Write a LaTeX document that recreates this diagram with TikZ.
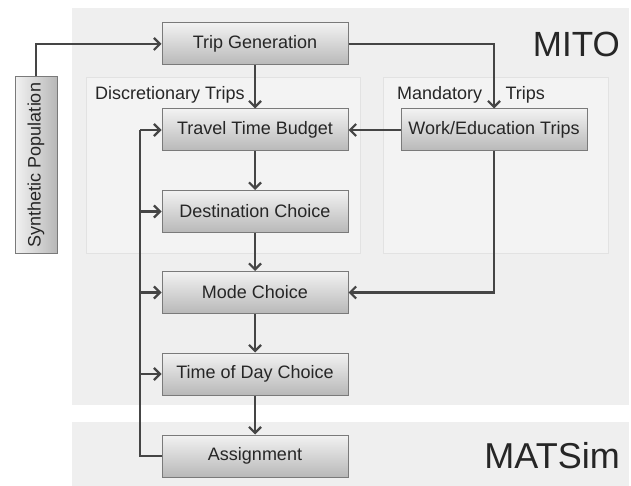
\documentclass[tikz,border=0pt]{standalone}
\usepackage{fontspec}
\setmainfont{Liberation Sans}
\usetikzlibrary{arrows.meta,positioning}
\definecolor{panel}{HTML}{EFEFEF}
\definecolor{inpanel}{HTML}{F3F3F3}
\definecolor{inborder}{HTML}{E2E2E2}
\definecolor{lin}{HTML}{454545}
\definecolor{boxtop}{HTML}{F2F2F2}
\definecolor{boxbot}{HTML}{B8B8B8}
\definecolor{boxedge}{HTML}{7A7A7A}
\tikzset{
  proc/.style={draw=boxedge, line width=1pt, top color=boxtop, bottom color=boxbot,
    minimum width=186pt, minimum height=42pt, inner sep=0pt, font=\fontsize{18}{20}\selectfont, text=black!85},
  conn/.style={draw=lin, line width=2.6pt, -{Straight Barb[length=6pt,width=12pt,line width=2.2pt]}},
  plain/.style={draw=lin, line width=2.6pt},
  lbl/.style={font=\fontsize{18}{20}\selectfont, text=black!85, inner sep=0pt, anchor=west},
}
\begin{document}
\begin{tikzpicture}[x=1pt,y=-1pt]
\useasboundingbox (0,0) rectangle (631,486);
\fill[white] (0,0) rectangle (631,486);
% panels
\fill[panel] (72,8) rectangle (629,405);
\fill[panel] (72,422) rectangle (629,486);
\filldraw[fill=inpanel, draw=inborder, line width=1pt] (86,78) rectangle (360,253);
\filldraw[fill=inpanel, draw=inborder, line width=1pt] (383,78) rectangle (608,253);
\node[font=\fontsize{35}{40}\selectfont, text=black!85, anchor=east, inner sep=0pt] (mito) at (620,44) {MITO};
\node[font=\fontsize{36}{40}\selectfont, text=black!85, anchor=east, inner sep=0pt] (matsim) at (620,456) {MATSim};
\node[lbl] (disc) at (95,95) {Discretionary Trips};
\node[lbl] (mand) at (397,95) {Mandatory\hspace{1.3em}Trips};
% boxes
\node[proc] (tg) at (255,44) {Trip Generation};
\node[proc] (ttb) at (255,130) {Travel Time Budget};
\node[proc] (we) at (494,130) {Work/Education Trips};
\node[proc] (dc) at (255,211.5) {Destination Choice};
\node[proc] (mc) at (255,292.5) {Mode Choice};
\node[proc] (tod) at (255,374) {Time of Day Choice};
\node[proc] (as) at (255,456) {Assignment};
\node[proc, minimum width=176pt, rotate=90, shading angle=90] (sp) at (36,165) {Synthetic Population};
% connectors
\draw[conn] (sp.east) |- (tg.west);
\draw[conn] (tg.east) -| (we.north);
\draw[conn] (tg.south) -- (ttb.north);
\draw[conn] (we.west) -- (ttb.east);
\draw[conn] (ttb.south) -- (dc.north);
\draw[conn] (dc.south) -- (mc.north);
\draw[conn] (mc.south) -- (tod.north);
\draw[conn] (tod.south) -- (as.north);
\draw[conn] (we.south) |- (mc.east);
\coordinate (fb) at (140,456);
\coordinate (fbt) at (140,130);
\draw[plain] (as.west) -- (fb) -- (fbt);
\draw[conn] (fbt) -- (ttb.west);
\draw[conn] (fb |- dc.west) -- (dc.west);
\draw[conn] (fb |- mc.west) -- (mc.west);
\draw[conn] (fb |- tod.west) -- (tod.west);
\end{tikzpicture}
\end{document}
